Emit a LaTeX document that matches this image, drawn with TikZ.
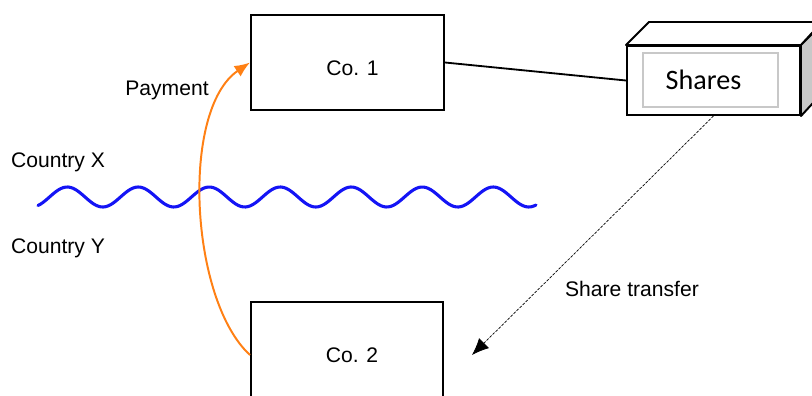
\documentclass[tikz,border=0pt]{standalone}
\usepackage{fontspec}
\setmainfont{Liberation Sans}
\newfontfamily\calib{Carlito}
\usetikzlibrary{arrows.meta}
\definecolor{wavecol}{RGB}{20,20,245}
\definecolor{paycol}{RGB}{255,128,20}
\definecolor{sidecol}{RGB}{200,200,200}

\begin{document}
\begin{tikzpicture}[x=0.025cm, y=-0.025cm, font=\fontsize{15}{18}\selectfont]
\clip (0,0) rectangle (812,396);
\fill[white] (0,0) rectangle (812,396);

\begin{scope}[every node/.style={rectangle,draw,line width=1.4pt,inner sep=0pt}]
\node[minimum width=4.825cm, minimum height=2.375cm] (co1) at (347.5, 62.5) {\hspace*{0.25cm}\raisebox{-0.14cm}[\height][0pt]{Co. 1}};
\node[minimum width=4.8cm, minimum height=2.65cm] (co2) at (347, 355) {\hspace*{0.25cm}Co. 2};
\node[minimum width=4.325cm, minimum height=1.725cm] (shares) at (713.5, 80.5) {};
\end{scope}

% 3d faces of the shares box
\draw[line width=1.4pt, line join=round, fill=white] (shares.north west) -- ++(23,-23) -- ++(173,0) -- (shares.north east) -- cycle;
\draw[line width=1.4pt, line join=round, fill=sidecol] (shares.north east) -- ++(23,-23) -- ++(0,69) -- (shares.south east) -- cycle;
\node[draw=sidecol, line width=1pt, minimum width=3.375cm, minimum height=1.35cm, font=\calib\fontsize{20}{24}\selectfont] (sharestext) at (710.5, 80) {Shares\hspace*{0.35cm}};

\node (countryx) at (58, 162) {Country X};
\node (countryy) at (58, 248) {Country Y};
\node (payment) at (167, 90) {Payment};
\node (transfer) at (632, 289) {Share transfer};
\coordinate (transferend) at (472, 355);

% border between the countries
\draw[wavecol, line width=2.2pt, line cap=round, domain=38:536, samples=200, smooth]
  plot (\x, {197 - 10*sin((\x-49.5)/71*360)});

\draw[line width=1.3pt, black] (co1.east) -- (shares.west);
\draw[paycol, line width=1.4pt, -{Latex[length=11pt, width=9pt]}] (co2.west) .. controls (190,300) and (180,110) .. (co1.west);
\draw[black, line width=0.5pt, dash pattern=on 2pt off 1pt, -{Latex[length=12pt, width=10pt]}] (shares.south) -- (transferend);
\end{tikzpicture}
\end{document}
